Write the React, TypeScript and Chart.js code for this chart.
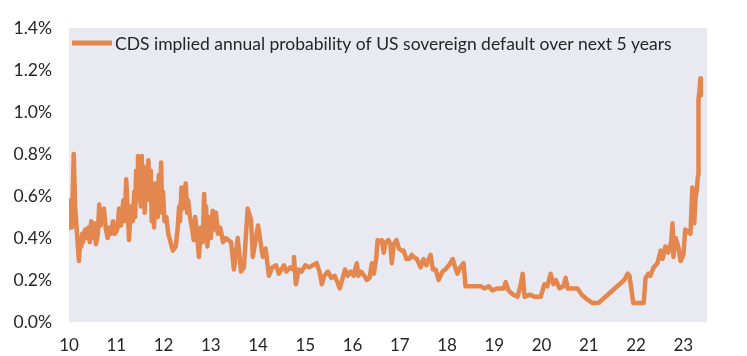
import React, { useEffect, useRef } from "react";
import { Chart, registerables } from "chart.js";

Chart.register(...registerables);

const seriesLabel = "CDS implied annual probability of US sovereign default over next 5 years";

// Year (2-digit, fractional) and default probability (%)
const years = [
  10.00, 10.02, 10.04, 10.06, 10.08, 10.10, 10.13, 10.16, 10.21, 10.24, 10.26, 10.28, 10.30, 10.34, 10.38, 10.41,
  10.44, 10.47, 10.50, 10.53, 10.57, 10.61, 10.64, 10.67, 10.70, 10.74, 10.78, 10.82, 10.86, 10.89, 10.93, 10.97,
  11.02, 11.06, 11.10, 11.15, 11.18, 11.21, 11.24, 11.27, 11.31, 11.35, 11.38, 11.40, 11.42, 11.44, 11.46, 11.47,
  11.49, 11.52, 11.54, 11.56, 11.58, 11.60, 11.63, 11.65, 11.68, 11.70, 11.73, 11.75, 11.77, 11.80, 11.82, 11.84,
  11.86, 11.88, 11.90, 11.92, 11.95, 11.97, 11.99, 12.02, 12.06, 12.10, 12.15, 12.20, 12.26, 12.30, 12.33, 12.35,
  12.38, 12.41, 12.44, 12.47, 12.50, 12.52, 12.56, 12.60, 12.64, 12.67, 12.70, 12.75, 12.79, 12.83, 12.86, 12.88,
  12.90, 12.93, 12.96, 13.00, 13.04, 13.08, 13.11, 13.15, 13.20, 13.26, 13.32, 13.43, 13.49, 13.57, 13.64, 13.70,
  13.78, 13.85, 13.89, 14.00, 14.10, 14.16, 14.23, 14.30, 14.38, 14.44, 14.55, 14.60, 14.68, 14.74, 14.76, 14.80,
  14.86, 14.92, 15.00, 15.08, 15.16, 15.24, 15.30, 15.35, 15.40, 15.48, 15.55, 15.62, 15.68, 15.73, 15.78, 15.84,
  15.90, 15.96, 16.02, 16.09, 16.12, 16.18, 16.25, 16.30, 16.36, 16.41, 16.45, 16.50, 16.53, 16.58, 16.62, 16.66,
  16.70, 16.76, 16.80, 16.83, 16.87, 16.93, 16.98, 17.04, 17.08, 17.14, 17.20, 17.25, 17.29, 17.36, 17.44, 17.50,
  17.56, 17.65, 17.70, 17.76, 17.82, 17.90, 17.96, 18.04, 18.12, 18.17, 18.22, 18.28, 18.35, 18.39, 18.50, 18.60,
  18.71, 18.80, 18.88, 18.96, 19.05, 19.14, 19.20, 19.24, 19.30, 19.40, 19.49, 19.56, 19.60, 19.64, 19.75, 19.86,
  19.98, 20.06, 20.12, 20.19, 20.25, 20.30, 20.38, 20.46, 20.51, 20.55, 20.65, 20.76, 20.85, 20.95, 21.08, 21.20,
  21.40, 21.60, 21.75, 21.82, 21.86, 21.94, 22.05, 22.16, 22.20, 22.26, 22.30, 22.37, 22.45, 22.52, 22.56, 22.62,
  22.68, 22.74, 22.77, 22.79, 22.84, 22.90, 22.94, 23.00, 23.04, 23.10, 23.15, 23.19, 23.23, 23.26, 23.28, 23.31,
  23.32, 23.34, 23.36, 23.37,
];

const probability = [
  0.55, 0.45, 0.58, 0.45, 0.62, 0.80, 0.55, 0.45, 0.29, 0.40, 0.36, 0.42, 0.38, 0.44, 0.40, 0.45,
  0.38, 0.48, 0.40, 0.47, 0.37, 0.42, 0.56, 0.46, 0.52, 0.54, 0.44, 0.40, 0.45, 0.42, 0.48, 0.42,
  0.44, 0.54, 0.46, 0.58, 0.48, 0.68, 0.55, 0.39, 0.55, 0.48, 0.62, 0.50, 0.72, 0.58, 0.79, 0.62,
  0.78, 0.55, 0.79, 0.60, 0.74, 0.52, 0.70, 0.58, 0.77, 0.60, 0.72, 0.48, 0.60, 0.45, 0.66, 0.52,
  0.65, 0.50, 0.70, 0.55, 0.76, 0.52, 0.62, 0.48, 0.50, 0.42, 0.38, 0.34, 0.36, 0.45, 0.55, 0.48,
  0.64, 0.54, 0.62, 0.66, 0.52, 0.58, 0.50, 0.45, 0.39, 0.50, 0.44, 0.31, 0.45, 0.38, 0.61, 0.45,
  0.55, 0.36, 0.50, 0.40, 0.53, 0.44, 0.52, 0.42, 0.45, 0.38, 0.40, 0.38, 0.25, 0.40, 0.24, 0.26,
  0.54, 0.49, 0.31, 0.46, 0.31, 0.35, 0.22, 0.26, 0.27, 0.23, 0.27, 0.24, 0.26, 0.25, 0.31, 0.18,
  0.25, 0.24, 0.27, 0.26, 0.27, 0.28, 0.24, 0.18, 0.22, 0.24, 0.21, 0.22, 0.19, 0.16, 0.20, 0.25,
  0.22, 0.24, 0.22, 0.28, 0.22, 0.24, 0.22, 0.20, 0.21, 0.28, 0.23, 0.30, 0.39, 0.38, 0.39, 0.33,
  0.38, 0.39, 0.37, 0.28, 0.37, 0.39, 0.35, 0.34, 0.34, 0.30, 0.30, 0.32, 0.31, 0.30, 0.26, 0.30,
  0.27, 0.32, 0.25, 0.25, 0.20, 0.24, 0.25, 0.27, 0.30, 0.26, 0.23, 0.26, 0.28, 0.17, 0.17, 0.17,
  0.17, 0.16, 0.17, 0.15, 0.16, 0.16, 0.16, 0.19, 0.15, 0.13, 0.12, 0.18, 0.23, 0.12, 0.13, 0.12,
  0.12, 0.18, 0.17, 0.23, 0.18, 0.20, 0.16, 0.17, 0.21, 0.16, 0.16, 0.16, 0.13, 0.11, 0.09, 0.09,
  0.13, 0.17, 0.20, 0.23, 0.22, 0.09, 0.09, 0.09, 0.21, 0.23, 0.22, 0.26, 0.28, 0.34, 0.30, 0.36,
  0.33, 0.38, 0.47, 0.31, 0.40, 0.35, 0.29, 0.32, 0.44, 0.43, 0.42, 0.64, 0.47, 0.60, 0.62, 0.70,
  1.06, 1.10, 1.16, 1.08,
];

const xMin = 10;
const xMax = 23.5;
const xTicks = [10, 11, 12, 13, 14, 15, 16, 17, 18, 19, 20, 21, 22, 23];
const yTicks = [0, 0.2, 0.4, 0.6, 0.8, 1.0, 1.2, 1.4];

const LINE_COLOR = "#e4874e";
const PLOT_BG = "#e9eaf1";
const TEXT_COLOR = "#262626";
const FONT = "Lato, 'Liberation Sans', sans-serif";

const plotBackground = {
  id: "plotBackground",
  beforeDraw(chart: any) {
    const { ctx, chartArea } = chart;
    ctx.save();
    ctx.fillStyle = PLOT_BG;
    ctx.fillRect(chartArea.left, chartArea.top, chartArea.right - chartArea.left, chartArea.bottom - chartArea.top);
    ctx.restore();
  },
};

// Legend drawn inside the plot area, top-left
const innerLegend = {
  id: "innerLegend",
  afterDatasetsDraw(chart: any) {
    const { ctx, chartArea } = chart;
    const ds = chart.data.datasets[0];
    const x0 = chartArea.left + 3;
    const yMid = chartArea.top + 15;
    ctx.save();
    ctx.fillStyle = ds.borderColor;
    ctx.fillRect(x0, yMid - 2.5, 40, 5);
    ctx.fillStyle = TEXT_COLOR;
    ctx.font = `17.5px ${FONT}`;
    ctx.textAlign = "left";
    ctx.textBaseline = "middle";
    ctx.fillText(ds.label, x0 + 43, yMid + 1);
    ctx.restore();
  },
};

export default function App() {
  const canvasRef = useRef<HTMLCanvasElement | null>(null);

  useEffect(() => {
    if (!canvasRef.current) return;
    const points = years.map((x, i) => ({ x, y: probability[i] }));
    const chart = new Chart(canvasRef.current, {
      type: "line",
      data: {
        datasets: [
          {
            label: seriesLabel,
            data: points,
            borderColor: LINE_COLOR,
            backgroundColor: LINE_COLOR,
            borderWidth: 4.5,
            pointRadius: 0,
            tension: 0,
            borderJoinStyle: "round",
          },
        ],
      },
      options: {
        animation: false,
        responsive: true,
        maintainAspectRatio: false,
        layout: { padding: { left: 0, top: 28, right: 40, bottom: 0 } },
        scales: {
          x: {
            type: "linear",
            min: xMin,
            max: xMax,
            grid: { display: false, drawTicks: false },
            border: { display: false },
            afterBuildTicks: (scale: any) => {
              scale.ticks = xTicks.map((v) => ({ value: v }));
            },
            afterFit: (scale: any) => {
              scale.height = 34;
            },
            ticks: {
              autoSkip: false,
              maxRotation: 0,
              padding: 13,
              color: TEXT_COLOR,
              font: { family: FONT, size: 17 },
              callback: (v: any) => String(v),
            },
          },
          y: {
            min: 0,
            max: 1.4,
            grid: { display: false, drawTicks: false },
            border: { display: false },
            afterBuildTicks: (scale: any) => {
              scale.ticks = yTicks.map((v) => ({ value: v }));
            },
            afterFit: (scale: any) => {
              scale.width = 69;
            },
            ticks: {
              padding: 17,
              color: TEXT_COLOR,
              font: { family: FONT, size: 17.5 },
              callback: (v: any) => Number(v).toFixed(1) + "%",
            },
          },
        },
        plugins: {
          tooltip: { enabled: false },
          legend: { display: false },
        },
      },
      plugins: [plotBackground, innerLegend],
    } as any);
    return () => chart.destroy();
  }, []);

  return (
    <div style={{ position: "absolute", left: 0, top: 0, width: 747, height: 356, background: "#ffffff" }}>
      <canvas ref={canvasRef} />
    </div>
  );
}
